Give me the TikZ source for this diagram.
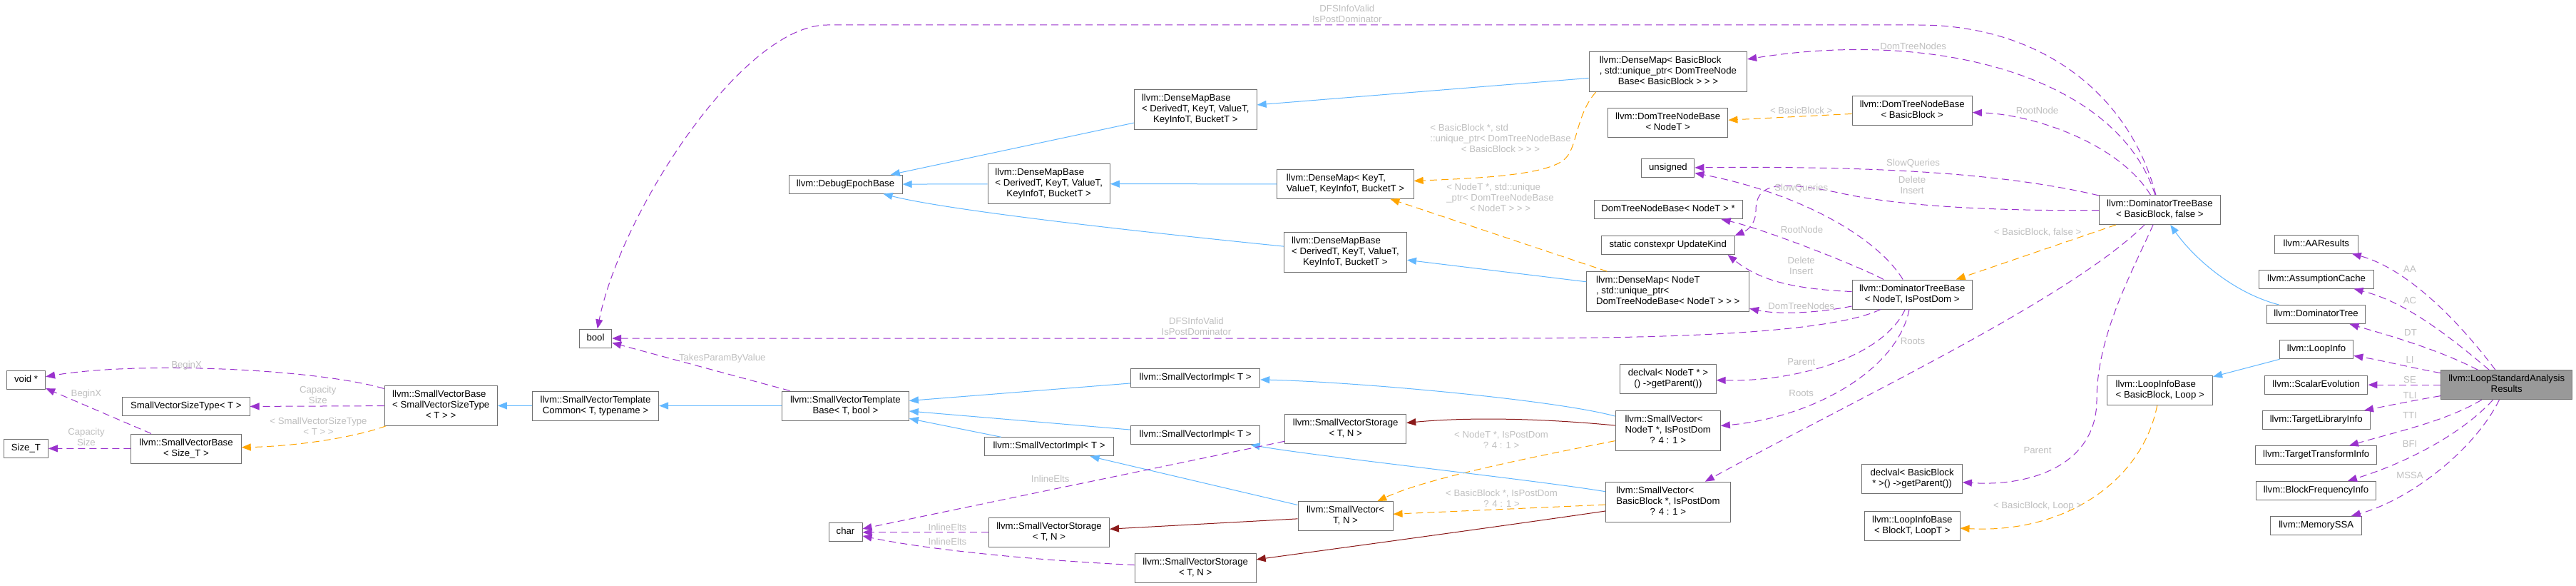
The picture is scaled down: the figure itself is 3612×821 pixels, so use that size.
\documentclass[tikz,border=0pt]{standalone}
\usepackage{fontspec}
\setmainfont{Liberation Sans}
\usetikzlibrary{arrows.meta}
\definecolor{cblue}{HTML}{63B8FF}
\definecolor{cpurple}{HTML}{9A32CD}
\definecolor{corange}{HTML}{FFA500}
\definecolor{cred}{HTML}{8B1A1A}
\definecolor{clabel}{HTML}{C0C0C0}
\definecolor{cborder}{HTML}{707070}
\definecolor{cfill}{HTML}{999999}
\newcommand\dxl[1]{\begin{tabular}{@{}l@{}}#1\end{tabular}}
\newcommand\dxc[1]{\multicolumn{1}{@{}c@{}}{#1}}
\begin{document}
\begin{tikzpicture}[x=1pt,y=-1pt,font=\fontsize{13.2}{15}\selectfont,
  box/.style={draw=cborder,line width=1pt,fill=white,inner xsep=3pt,inner ysep=0pt},
  hA/.style={minimum height=26pt},
  hB/.style={minimum height=41pt},
  hC/.style={minimum height=56pt},
  lbl/.style={text=clabel,inner sep=0pt},
  tip/.style={-{Triangle[length=13pt,width=10pt]}},
  use/.style={tip,cpurple,line width=1pt,dash pattern=on 10pt off 6pt},
  inh/.style={tip,cblue,line width=1pt},
  tmpl/.style={tip,corange,line width=1pt,dash pattern=on 10pt off 6pt},
  prot/.style={tip,cred,line width=1pt}]
\fill[white] (0,0) rectangle (3612,821);
\useasboundingbox (0,0) rectangle (3612,821);

% ---------- nodes ----------
\node[box,hA,minimum width=54pt] (voidp) at (36.6,532.3) {\dxl{void *}};
\node[box,hA,minimum width=178.4pt] (svst) at (260.9,569.8) {\dxl{SmallVectorSizeType< T >}};
\node[box,hA,minimum width=62pt] (sizet) at (36.4,628.3) {\dxl{Size\_T}};
\node[box,hB,minimum width=154.5pt] (svbsize) at (261,628.5) {\dxl{llvm::SmallVectorBase\\\dxc{< Size\_T >}}};
\node[box,hC,minimum width=158.4pt] (svbsvst) at (618.2,568.3) {\dxl{llvm::SmallVectorBase\\< SmallVectorSizeType\\\dxc{< T > >}}};
\node[box,hA,minimum width=45.4pt] (bool) at (835,474) {\dxl{bool}};
\node[box,hB,minimum width=177.4pt] (svtc) at (835,568.5) {\dxl{llvm::SmallVectorTemplate\\\dxc{Common< T, typename >}}};
\node[box,hB,minimum width=178pt] (svtb) at (1185.4,568.5) {\dxl{llvm::SmallVectorTemplate\\\dxc{Base< T, bool >}}};
\node[box,hA,minimum width=47pt] (char) at (1185.5,745.8) {\dxl{char}};
\node[box,hA,minimum width=159pt] (deb) at (1185.5,258.2) {\dxl{llvm::DebugEpochBase}};
\node[box,hC,minimum width=171.7pt] (dmb1) at (1676.3,153.8) {\dxl{llvm::DenseMapBase\\< DerivedT, KeyT, ValueT,\\\dxc{KeyInfoT, BucketT >}}};
\node[box,hC,minimum width=171.4pt] (dmb2) at (1470.7,257.7) {\dxl{llvm::DenseMapBase\\< DerivedT, KeyT, ValueT,\\\dxc{KeyInfoT, BucketT >}}};
\node[box,hC,minimum width=172.2pt] (dmb3) at (1886.4,353.8) {\dxl{llvm::DenseMapBase\\< DerivedT, KeyT, ValueT,\\\dxc{KeyInfoT, BucketT >}}};
\node[box,hB,minimum width=191.3pt] (dmkt) at (1886.5,257.8) {\dxl{llvm::DenseMap< KeyT,\\\dxc{ValueT, KeyInfoT, BucketT >}}};
\node[box,hA,minimum width=181pt] (svi1) at (1676.2,529.8) {\dxl{llvm::SmallVectorImpl< T >}};
\node[box,hA,minimum width=181pt] (svi2) at (1676.2,609.7) {\dxl{llvm::SmallVectorImpl< T >}};
\node[box,hA,minimum width=181pt] (svi3) at (1471,625.8) {\dxl{llvm::SmallVectorImpl< T >}};
\node[box,hB,minimum width=170pt] (svs1) at (1886.7,600.7) {\dxl{llvm::SmallVectorStorage\\\dxc{< T, N >}}};
\node[box,hB,minimum width=169pt] (svs2) at (1471,745.8) {\dxl{llvm::SmallVectorStorage\\\dxc{< T, N >}}};
\node[box,hB,minimum width=170pt] (svs3) at (1676.2,795.5) {\dxl{llvm::SmallVectorStorage\\\dxc{< T, N >}}};
\node[box,hB,minimum width=133pt] (svtn) at (1886.5,723.2) {\dxl{llvm::SmallVector<\\\dxc{T, N >}}};
\node[box,hC,minimum width=221.4pt] (dmbb) at (2338.9,100.5) {\dxl{llvm::DenseMap< BasicBlock\\ *, std::unique\_ptr< DomTreeNode\\\dxc{Base< BasicBlock > > >}}};
\node[box,hB,minimum width=168.4pt] (dtnbn) at (2338.7,172.5) {\dxl{llvm::DomTreeNodeBase\\\dxc{< NodeT >}}};
\node[box,hB,minimum width=168.3pt] (dtnbb) at (2681.2,155.2) {\dxl{llvm::DomTreeNodeBase\\\dxc{< BasicBlock >}}};
\node[box,hA,minimum width=74pt] (unsigned) at (2338.9,235.3) {\dxl{unsigned}};
\node[box,hA,minimum width=208pt] (dtnbp) at (2339,293.8) {\dxl{DomTreeNodeBase< NodeT > *}};
\node[box,hA,minimum width=186.6pt] (upk) at (2338.7,343.5) {\dxl{static constexpr UpdateKind}};
\node[box,hC,minimum width=227.7pt] (dmnt) at (2338.7,408.7) {\dxl{llvm::DenseMap< NodeT\\ *, std::unique\_ptr<\\\dxc{DomTreeNodeBase< NodeT > > >}}};
\node[box,hB,minimum width=168.3pt] (dtbn) at (2681.2,412.5) {\dxl{llvm::DominatorTreeBase\\\dxc{< NodeT, IsPostDom >}}};
\node[box,hB,minimum width=134.4pt] (dvn) at (2338.9,531.2) {\dxl{declval< NodeT * >\\\dxc{() ->getParent())}}};
\node[box,hC,minimum width=147.3pt] (svnt) at (2338.7,603.2) {\dxl{llvm::SmallVector<\\NodeT *, IsPostDom\\\dxc{? 4 : 1 >}}};
\node[box,hC,minimum width=174.6pt] (svbb) at (2338.9,703.2) {\dxl{llvm::SmallVector<\\BasicBlock *, IsPostDom\\\dxc{? 4 : 1 >}}};
\node[box,hB,minimum width=140.6pt] (dvb) at (2681.1,671.2) {\dxl{declval< BasicBlock\\\dxc{* >() ->getParent())}}};
\node[box,hB,minimum width=133.4pt] (libt) at (2681.3,736.5) {\dxl{llvm::LoopInfoBase\\\dxc{< BlockT, LoopT >}}};
\node[box,hB,minimum width=170pt] (dtbb) at (3028.4,294) {\dxl{llvm::DominatorTreeBase\\\dxc{< BasicBlock, false >}}};
\node[box,hA,minimum width=116.5pt] (aa) at (3247.8,342) {\dxl{llvm::AAResults}};
\node[box,hA,minimum width=160.6pt] (ac) at (3248,391.2) {\dxl{llvm::AssumptionCache}};
\node[box,hA,minimum width=138.8pt] (dt) at (3247.5,440.5) {\dxl{llvm::DominatorTree}};
\node[box,hA,minimum width=103.6pt] (li) at (3248,489.8) {\dxl{llvm::LoopInfo}};
\node[box,hB,minimum width=147.6pt] (libb) at (3028.7,547.2) {\dxl{llvm::LoopInfoBase\\\dxc{< BasicBlock, Loop >}}};
\node[box,hA,minimum width=144.5pt] (se) at (3247.7,539.2) {\dxl{llvm::ScalarEvolution}};
\node[box,hB,minimum width=184.4pt,fill=cfill] (lsar) at (3514.7,539.2) {\dxl{llvm::LoopStandardAnalysis\\\dxc{Results}}};
\node[box,hA,minimum width=150.7pt] (tli) at (3247.7,588.5) {\dxl{llvm::TargetLibraryInfo}};
\node[box,hA,minimum width=170.4pt] (tti) at (3247.7,637.8) {\dxl{llvm::TargetTransformInfo}};
\node[box,hA,minimum width=168.9pt] (bfi) at (3247.5,687.2) {\dxl{llvm::BlockFrequencyInfo}};
\node[box,hA,minimum width=128pt] (mssa) at (3247.7,736.3) {\dxl{llvm::MemorySSA}};

% ---------- connectors ----------
% LoopStandardAnalysisResults members
\draw[use] (lsar) .. controls (3440,440) and (3370,375) .. (aa);
\draw[use] (lsar) .. controls (3410,450) and (3360,420) .. (ac);
\draw[use] (lsar) .. controls (3420,490) and (3350,470) .. (dt);
\draw[use] (lsar) .. controls (3380,515) and (3340,505) .. (li);
\draw[use] (lsar) -- (se);
\draw[use] (lsar) .. controls (3390,560) and (3350,568) .. (tli);
\draw[use] (lsar) .. controls (3430,590) and (3360,605) .. (tti);
\draw[use] (lsar) .. controls (3450,610) and (3370,650) .. (bfi);
\draw[use] (lsar) .. controls (3470,630) and (3380,700) .. (mssa);

\draw[inh] (dt) .. controls (3130,410) and (3075,360) .. (dtbb);
\draw[inh] (li) -- (libb);
\draw[tmpl] (libb) .. controls (3005,670) and (2900,748) .. (libt);

% DominatorTreeBase<BasicBlock,false>
\draw[use] (dtbb) .. controls (2990,380) and (2940,470) .. (2940,560) .. controls (2940,650) and (2850,682) .. (dvb);
\draw[use] (dtbb) .. controls (2900,420) and (2600,560) .. (svbb);
\draw[tmpl] (dtbb) -- (dtbn);
\draw[use] (dtbb) .. controls (2970,200) and (2850,160) .. (dtnbb);
\draw[use] (dtbb) .. controls (2970,110) and (2720,40) .. (dmbb);
\draw[use] (dtbb) .. controls (2985,130) and (2860,35) .. (2690,35) -- (1160,35) .. controls (1040,35) and (870,300) .. (bool);
\draw[use] (dtbb) .. controls (2820,245) and (2650,232) .. (unsigned);
\draw[use] (dtbb) .. controls (2750,296) and (2640,284) .. (2578,270) .. controls (2490,252) and (2462,258) .. (2462,295) .. controls (2462,312) and (2452,322) .. (upk.north east);

% DominatorTreeBase<NodeT,IsPostDom>
\draw[use] (dtbn) .. controls (2540,440) and (2490,440) .. (dmnt);
\draw[use] (dtbn) .. controls (2560,470) and (2300,474) .. (2100,474) -- (bool);
\draw[use] (dtbn) .. controls (2630,330) and (2520,270) .. (unsigned);
\draw[use] (dtbn) .. controls (2600,370) and (2470,320) .. ([xshift=-30pt]dtnbp.south east);
\draw[use] (dtbn) .. controls (2520,405) and (2470,395) .. ([xshift=-10pt]upk.south east);
\draw[use] (dtbn) .. controls (2640,500) and (2520,535) .. (dvn);
\draw[use] (dtbn) .. controls (2660,520) and (2540,585) .. (svnt);

% DenseMap family
\draw[tmpl] ([xshift=10pt]dmbb.south west) .. controls (2210,160) and (2212,205) .. (2195,222) .. controls (2170,247) and (2060,250) .. (dmkt);
\draw[tmpl] (dmnt) -- (dmkt);
\draw[inh] (dmbb) -- (dmb1);
\draw[inh] (dmb1) -- (deb);
\draw[inh] (dmb2) -- (deb);
\draw[inh] (dmb3) .. controls (1600,325) and (1330,295) .. (deb);
\draw[inh] (dmkt) -- (dmb2);
\draw[inh] (dmnt) -- (dmb3);
\draw[tmpl] (dtnbb) -- (dtnbn);

% SmallVector family
\draw[tmpl] (svnt) .. controls (2150,640) and (2000,670) .. (svtn);
\draw[tmpl] (svbb) -- (svtn);
\draw[prot] (svnt) .. controls (2150,585) and (2050,585) .. (svs1);
\draw[inh] (svnt) .. controls (2180,560) and (1900,535) .. (svi1);
\draw[inh] (svbb) .. controls (2150,672) and (1850,640) .. (svi2);
\draw[prot] (svbb) .. controls (2100,738) and (1900,765) .. (svs3);
\draw[inh] (svtn) -- (svi3);
\draw[prot] (svtn) -- (svs2);
\draw[inh] (svi1) -- (svtb);
\draw[inh] (svi2) -- (svtb);
\draw[inh] (svi3) -- (svtb);
\draw[inh] (svtb) -- (svtc);
\draw[inh] (svtc) -- (svbsvst);
\draw[use] (svtb) -- (bool);
\draw[use] (svs1) -- (char);
\draw[use] (svs2) -- (char);
\draw[use] (svs3) .. controls (1450,785) and (1300,770) .. (char);
\draw[use] (svbsvst) .. controls (450,518) and (200,505) .. (voidp);
\draw[use] (svbsvst) -- (svst);
\draw[tmpl] (svbsvst) .. controls (500,612) and (420,625) .. (svbsize);
\draw[use] (svbsize) -- (voidp);
\draw[use] (svbsize) -- (sizet);

% ---------- labels ----------
\node[lbl] (lAA) at (3379,376.7) {AA};
\node[lbl] (lAC) at (3379,421.3) {AC};
\node[lbl] (lDT) at (3380,466) {DT};
\node[lbl] (lLI) at (3379,504.3) {LI};
\node[lbl] (lSE) at (3379,532.3) {SE};
\node[lbl] (lTLI) at (3379,554) {TLI};
\node[lbl] (lTTI) at (3379,582.3) {TTI};
\node[lbl] (lBFI) at (3379,622.3) {BFI};
\node[lbl] (lMSSA) at (3379,665.7) {MSSA};
\node[lbl] (lbbl) at (2857,709) {< BasicBlock, Loop >};
\node[lbl] (lpar1) at (2857,630.7) {Parent};
\node[lbl] (lbbf) at (2857,325.5) {< BasicBlock, false >};
\node[lbl] (lroot1) at (2856.5,154.3) {RootNode};
\node[lbl] (ldtn1) at (2682.6,64.3) {DomTreeNodes};
\node[lbl] (ldfs1) at (1888.8,20.8) {\dxl{\dxc{DFSInfoValid}\\\dxc{IsPostDominator}}};
\node[lbl] (lslow1) at (2682.6,228.7) {SlowQueries};
\node[lbl] (ldel1) at (2681,260.8) {\dxl{Delete\\\dxc{Insert}}};
\node[lbl] (lroots1) at (2682,477.7) {Roots};
\node[lbl] (lbb) at (2525.7,154.7) {< BasicBlock >};
\node[lbl] (lslow2) at (2525.7,264.3) {SlowQueries};
\node[lbl] (lroot2) at (2526.6,321.7) {RootNode};
\node[lbl] (ldel2) at (2525.7,374.2) {\dxl{Delete\\\dxc{Insert}}};
\node[lbl] (ldtn2) at (2525.7,428.7) {DomTreeNodes};
\node[lbl] (lpar2) at (2525.7,506.7) {Parent};
\node[lbl] (lroots2) at (2525.7,550.7) {Roots};
\node[lbl] (ldfs2) at (1677.4,459.2) {\dxl{\dxc{DFSInfoValid}\\\dxc{IsPostDominator}}};
\node[lbl] (lbbstd) at (2104,195.7) {\dxl{< BasicBlock *, std\\::unique\_ptr< DomTreeNodeBase\\\dxc{< BasicBlock > > >}}};
\node[lbl] (lntstd) at (2103.5,278.3) {\dxl{< NodeT *, std::unique\\\_ptr< DomTreeNodeBase\\\dxc{< NodeT > > >}}};
\node[lbl] (lntpd) at (2105,617.5) {\dxl{< NodeT *, IsPostDom\\\dxc{? 4 : 1 >}}};
\node[lbl] (lbbpd) at (2105.5,699.5) {\dxl{< BasicBlock *, IsPostDom\\\dxc{? 4 : 1 >}}};
\node[lbl] (ltpbv) at (1012.8,501.7) {TakesParamByValue};
\node[lbl] (lie1) at (1472.7,670.7) {InlineElts};
\node[lbl] (lie2) at (1328.5,738.7) {InlineElts};
\node[lbl] (lie3) at (1328.5,758.7) {InlineElts};
\node[lbl] (lbx1) at (261.6,512.3) {BeginX};
\node[lbl] (lbx2) at (121,552.3) {BeginX};
\node[lbl] (lcap1) at (445.8,555.2) {\dxl{Capacity\\\dxc{Size}}};
\node[lbl] (lcap2) at (121,614.2) {\dxl{Capacity\\\dxc{Size}}};
\node[lbl] (lsvst) at (446.5,598.5) {\dxl{< SmallVectorSizeType\\\dxc{< T > >}}};
\end{tikzpicture}
\end{document}
